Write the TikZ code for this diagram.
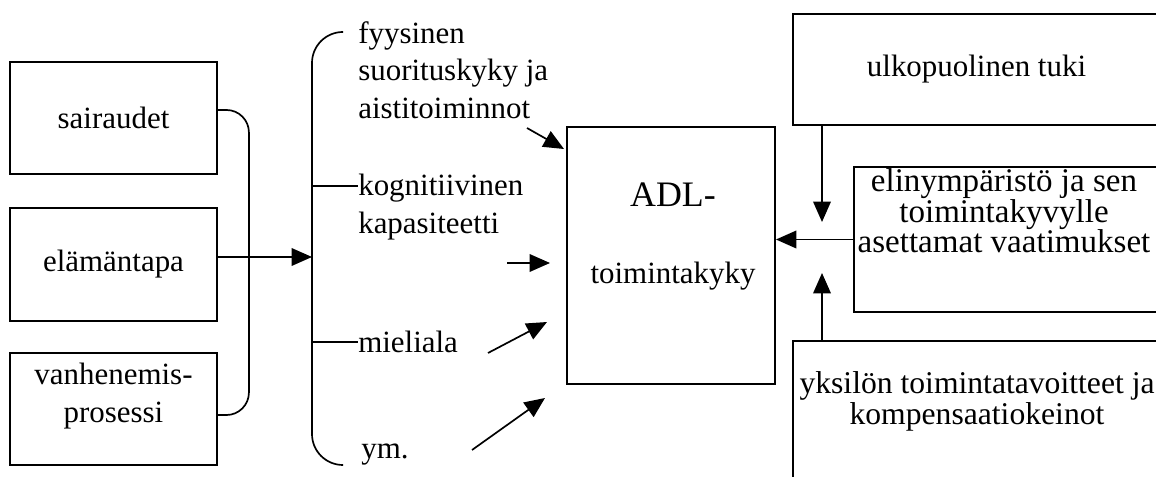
\documentclass[tikz,border=0pt]{standalone}
\usepackage{fontspec}
\setmainfont{Liberation Serif}
\usepackage{tikz}
\usetikzlibrary{positioning, arrows.meta}
\tikzset{
    box/.style = {rectangle, draw, line width=1.3pt, align=center, inner sep=0pt, font=\fontsize{22}{26.7}\selectfont},
    line/.style = {draw, line width=1.2pt},
}

\begin{document}
\begin{tikzpicture}[
        x=0.025cm, y=-0.025cm,
        txt/.style={
            align=left,
            inner sep=0pt,
            font=\fontsize{22}{26.7}\selectfont
        },
        rtxt/.style={
            align=center,
            inner sep=0pt,
            font=\fontsize{22.5}{22}\selectfont
        },
        arrow/.style={
            -{Triangle[length=14.5pt,width=12.5pt]},
            line width=1.2pt
        }
    ]
        \useasboundingbox (0,0) rectangle (1156,477);
        \clip (0,0) rectangle (1156,477);

        % causes
        \node [box, minimum width=5.175cm, minimum height=2.8cm] (sair) at (113.5,118) {sairaudet};
        \node [box, minimum width=5.175cm, minimum height=2.825cm] (elama) at (113.5,264.5) {elämäntapa};
        \node [box, minimum width=5.175cm, minimum height=2.8cm] (vanh) at (113.5,409) {};
        \node [txt, align=center] (vanhTxt) at (113.5,396) {vanhenemis-\\prosessi};

        \draw [line, rounded corners=16pt] ([yshift=5.7pt]sair.east) -- ++(31,0) -- ++(0,305) -- ([yshift=-4.3pt]vanh.east);

        % components
        \coordinate (brc) at (312,257);
        \draw [arrow] (elama.east |- brc) -- (brc);
        \draw [line, rounded corners=22pt] (343,32) -| (brc) |- (343,465);

        \node [txt, anchor=west] (fyys) at (358,70) {fyysinen\\suorituskyky ja\\aistitoiminnot};
        \node [txt, anchor=west] (kog) at (358,207) {kognitiivinen\\kapasiteetti};
        \node [txt, anchor=west] (miel) at (358,342) {mieliala};
        \node [txt, anchor=west] (ym) at (361,455) {ym.};

        \draw [line] (brc |- 0,186) -- (kog.west |- 0,186);
        \draw [line] (brc |- miel.west) -- (miel.west);

        % ADL
        \node [box, minimum width=5.2cm, minimum height=6.425cm] (adl) at (671,255.5) {};
        \node [inner sep=0pt, font=\fontsize{25.5}{30}\selectfont] (adlA) at (673,195) {ADL-};
        \node [txt] (adlB) at (673,276) {toimintakyky};

        \coordinate (aS) at (527,128);
        \coordinate (aE) at (564,149);
        \coordinate (kS) at (507,263);
        \coordinate (kE) at (550,263);
        \coordinate (mS) at (488,353);
        \coordinate (mE) at (547,322);
        \coordinate (yS) at (472,450);
        \coordinate (yE) at (545,398);
        \draw [arrow] (aS) -- (aE);
        \draw [arrow] (kS) -- (kE);
        \draw [arrow] (mS) -- (mE);
        \draw [arrow] (yS) -- (yE);

        % environment
        \node [box, minimum width=9.175cm, minimum height=2.775cm] (ulko) at (976.5,69.5) {ulkopuolinen tuki};
        \node [box, minimum width=7.65cm, minimum height=3.625cm] (elin) at (1007,239.5) {};
        \node [rtxt, font=\fontsize{23.5}{21.7}\selectfont] (elinTxt) at (1004,211) {elinympäristö ja sen\\toimintakyvylle\\asettamat vaatimukset};
        \node [box, minimum width=9.175cm, minimum height=4.475cm] (yks) at (976.5,430.5) {};
        \node [rtxt] (yksTxt) at (977,401) {yksilön toimintatavoitteet ja\\kompensaatiokeinot};

        \coordinate (tipU) at (822,222);
        \coordinate (tipY) at (822,273);
        \draw [arrow] (ulko.south -| tipU) -- (tipU);
        \draw [arrow] (elin.west) -- (elin.west -| adl.east);
        \draw [arrow] (yks.north -| tipY) -- (tipY);
    \end{tikzpicture}
\end{document}
